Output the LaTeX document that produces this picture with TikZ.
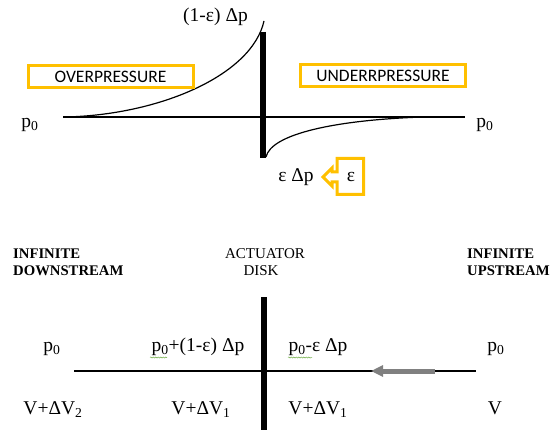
\documentclass[tikz,border=0pt]{standalone}
\usepackage{fontspec}
\setmainfont{Liberation Serif}
\newfontfamily\calfont{Carlito}
\usetikzlibrary{arrows.meta,decorations.pathmorphing}
\definecolor{gold}{HTML}{FFC000}
\definecolor{arrgray}{HTML}{808080}
\definecolor{squig}{HTML}{70AD47}
\newcommand\lowr[1]{\textsubscript{#1}}
\begin{document}
\begin{tikzpicture}[x=1pt,y=-1pt,
  lbl/.style={font=\fontsize{19.5}{22}\selectfont, inner sep=0pt, anchor=base},
  capl/.style={font=\bfseries\fontsize{14.7}{17}\selectfont, inner sep=0pt, anchor=base west},
  capc/.style={font=\fontsize{15}{17}\selectfont, inner sep=0pt, anchor=base},
  goldbox/.style={draw=gold, line width=3pt, font=\calfont\fontsize{17.5}{20}\selectfont,
                  minimum width=165pt, minimum height=22pt, inner sep=0pt},
  disk/.style={line width=6pt},
  axis/.style={line width=1.2pt},
  curve/.style={line width=1.2pt},
  wavy/.style={squig, line width=0.5pt, decorate, decoration={snake, segment length=2.5pt, amplitude=0.6pt}}]
\useasboundingbox (0,0) rectangle (553,430);
% ---------- top diagram ----------
\coordinate (axL) at (63,117);
\coordinate (axR) at (465,117);
\draw[axis] (axL) -- (axR);
\coordinate (dT) at (263,32);
\coordinate (dB) at (263,158);
\draw[disk] (dT) -- (dB);
\draw[curve] (65,117) .. controls (160,115) and (252,75) .. (264,21);
\draw[curve] (266,157) .. controls (271,134) and (335,120) .. (423,117);
\node[lbl] (topL) at (215.5,21.5) {(1-ε) Δp};
\node[lbl] (p0L) at (30,127.5) {p\lowr{0}};
\node[lbl] (p0R) at (485,127.5) {p\lowr{0}};
\node[lbl] (epsdp) at (296,182) {ε Δp};
\node[goldbox] (over) at (110.5,76.5) {OVERPRESSURE};
\node[goldbox] (under) at (383,76) {UNDERRPRESSURE};
\node[lbl] (eps) at (351,182) {ε};
\draw[gold, line width=3pt, line join=miter]
  (363.5,158.5) -- (337,158.5) -- (337,172) -- (332,172) -- (332,168) -- (323,177)
  -- (332,186) -- (332,182) -- (337,182) -- (337,194.5) -- (363.5,194.5) -- cycle;
% ---------- bottom diagram ----------
\node[capl] (infD) at (13,258) {INFINITE};
\node[capl] (down) at (13,275) {DOWNSTREAM};
\node[capl] (infU) at (467,258) {INFINITE};
\node[capl] (up) at (467,275) {UPSTREAM};
\node[capc] (act) at (265,258) {ACTUATOR};
\node[capc] (disk) at (261,275) {DISK};
\coordinate (bL) at (74,371);
\coordinate (bR) at (476,371);
\draw[axis] (bL) -- (bR);
\coordinate (bT) at (264,297);
\coordinate (bB) at (264,431);
\draw[disk] (bT) -- (bB);
\coordinate (gS) at (435,371);
\coordinate (gE) at (371,371);
\draw[arrgray, line width=5pt, -{Triangle[length=12pt,width=11pt]}] (gS) -- (gE);
\node[lbl] (q1) at (52,351.5) {p\lowr{0}};
\node[lbl] (q2) at (198,351.5) {p\lowr{0}+(1-ε) Δp};
\node[lbl] (q3) at (318,351.5) {p\lowr{0}-ε Δp};
\node[lbl] (q4) at (496,351.5) {p\lowr{0}};
\coordinate (w1a) at (150,357.5); \coordinate (w1b) at (167,357.5);
\coordinate (w2a) at (288,357.5); \coordinate (w2b) at (312,357.5);
\draw[wavy] (w1a) -- (w1b);
\draw[wavy] (w2a) -- (w2b);
\node[lbl] (v1) at (53,414) {V+ΔV\lowr{2}};
\node[lbl] (v2) at (201,414) {V+ΔV\lowr{1}};
\node[lbl] (v3) at (318,414) {V+ΔV\lowr{1}};
\node[lbl] (v4) at (495,414) {V};
\end{tikzpicture}
\end{document}
